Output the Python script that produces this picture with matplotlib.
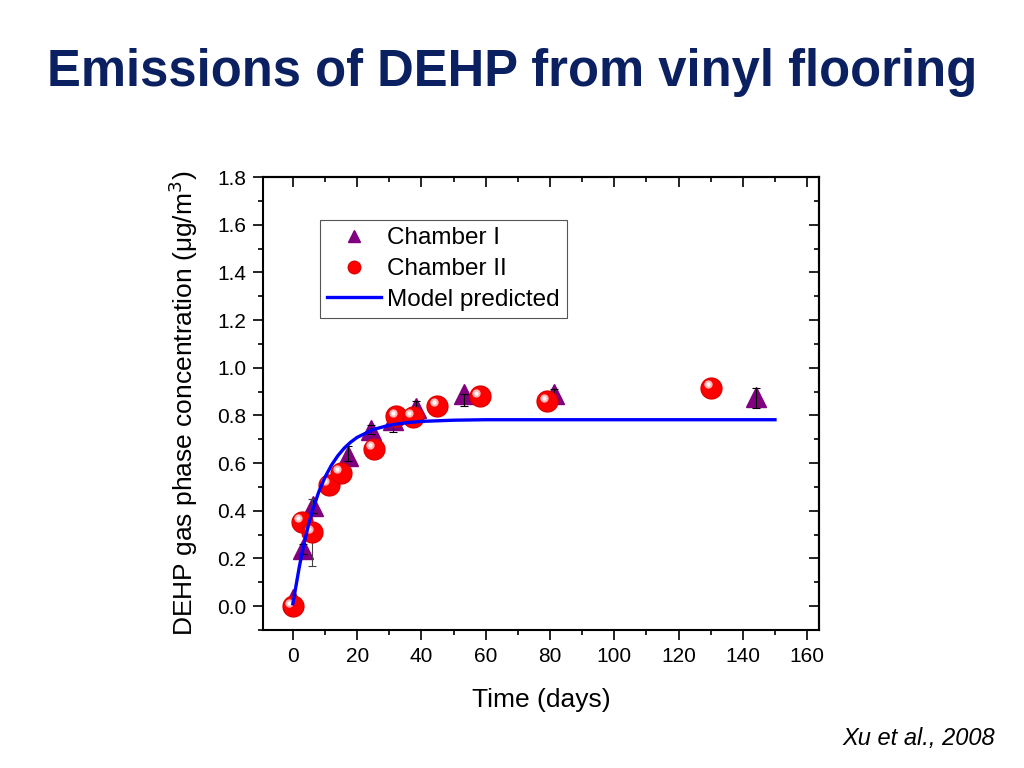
import matplotlib
matplotlib.use('Agg')
import matplotlib.pyplot as plt
import matplotlib.transforms as mtransforms
from matplotlib.ticker import MultipleLocator

plt.rcParams['font.family'] = ['Liberation Sans', 'DejaVu Sans']

# Chamber I (triangles)
ch1_t = [0, 3.2, 6.2, 17.2, 24.3, 31.3, 38.3, 53.1, 81.3, 144.1]
ch1_c = [0.03, 0.24, 0.42, 0.63, 0.74, 0.78, 0.83, 0.89, 0.89, 0.876]
ch1_err_lo = [0.01, 0.02, 0.03, 0.02, 0.02, 0.05, 0.02, 0.05, 0.02, 0.045]
ch1_err_hi = [0.01, 0.02, 0.03, 0.04, 0.02, 0.02, 0.03, 0.0, 0.02, 0.04]

# Chamber II (spheres)
ch2_t = [0, 2.7, 6.1, 11.1, 14.9, 25.1, 32.1, 37.3, 45.0, 58.2, 79.1, 130.1]
ch2_c = [0.0, 0.354, 0.31, 0.51, 0.56, 0.66, 0.797, 0.795, 0.84, 0.88, 0.86, 0.916]
ch2_err = [0.01, 0.02, 0.14, 0.02, 0.02, 0.02, 0.02, 0.02, 0.02, 0.02, 0.02, 0.02]

# Model curve, points
model_t = [0, 1, 2, 3, 4, 5, 6, 8, 10, 12, 14, 16, 18, 20, 25, 30, 35, 40, 50, 60, 80, 150]
model_c = [0.01, 0.087, 0.164, 0.232, 0.293, 0.348, 0.396, 0.477, 0.541, 0.591,
           0.631, 0.663, 0.688, 0.708, 0.741, 0.759, 0.769, 0.775, 0.780, 0.782,
           0.782, 0.782]

fig = plt.figure(figsize=(10.24, 7.68), dpi=100)
ax = fig.add_axes([0.2568, 0.1797, 0.5430, 0.5898])

# error bars (drawn under the spheres)
ax.errorbar(ch1_t, ch1_c, yerr=[ch1_err_lo, ch1_err_hi], fmt='none', ecolor='black',
            elinewidth=0.8, capsize=3, capthick=0.8, zorder=3)
ax.errorbar(ch2_t, ch2_c, yerr=ch2_err, fmt='none', ecolor='#444444',
            elinewidth=0.8, capsize=3, capthick=0.8, zorder=3)

ax.plot(ch1_t, ch1_c, linestyle='none', marker='^', markersize=15,
        color='#800080', markeredgecolor='#800080', zorder=2, label='Chamber I')
ax.plot(ch2_t, ch2_c, linestyle='none', marker='o', markersize=15,
        color='#ff0000', markeredgecolor='#e00000', zorder=4, label='Chamber II')
# highlight to give the spheres a shiny look
hl = mtransforms.offset_copy(ax.transData, fig=fig, x=-2.5, y=2.5, units='points')
ax.plot(ch2_t, ch2_c, linestyle='none', marker='o', markersize=6,
        color='#ffb4b4', markeredgewidth=0, transform=hl, zorder=5)
ax.plot(ch2_t, ch2_c, linestyle='none', marker='o', markersize=3,
        color='white', markeredgewidth=0, transform=hl, zorder=5)
ax.plot(model_t, model_c, color='#0000ff', linewidth=2.4, zorder=6,
        label='Model predicted')

ax.set_xlim(-9.3, 163.7)
ax.set_ylim(-0.1, 1.8)
ax.xaxis.set_major_locator(MultipleLocator(20))
ax.xaxis.set_minor_locator(MultipleLocator(10))
ax.yaxis.set_minor_locator(MultipleLocator(0.1))
ax.set_yticks([0.0, 0.2, 0.4, 0.6, 0.8, 1.0, 1.2, 1.4, 1.6, 1.8])
ax.set_yticklabels(['0.0', '0.2', '0.4', '0.6', '0.8', '1.0', '1.2', '1.4', '1.6', '1.8'])
ax.tick_params(which='major', direction='out', length=7, width=1.2, labelsize=15, pad=5)
ax.tick_params(which='minor', direction='out', length=3.5, width=1.2)
for s in ax.spines.values():
    s.set_linewidth(1.5)

# top and right ticks point inward
top = ax.secondary_xaxis('top')
top.xaxis.set_major_locator(MultipleLocator(20))
top.xaxis.set_minor_locator(MultipleLocator(10))
top.tick_params(which='major', direction='in', length=7, width=1.2, labeltop=False)
top.tick_params(which='minor', direction='in', length=3.5, width=1.2)
top.spines['top'].set_linewidth(1.5)
right = ax.secondary_yaxis('right')
right.yaxis.set_major_locator(MultipleLocator(0.2))
right.yaxis.set_minor_locator(MultipleLocator(0.1))
right.tick_params(which='major', direction='in', length=7, width=1.2, labelright=False)
right.tick_params(which='minor', direction='in', length=3.5, width=1.2)
right.spines['right'].set_linewidth(1.5)

ax.set_xlabel('Time (days)', fontsize=19, labelpad=16)
ax.set_ylabel('DEHP gas phase concentration (\u03bcg/m$^3$)', fontsize=19, labelpad=12)

leg = ax.legend(loc='upper left', bbox_to_anchor=(0.1025, 0.905), fontsize=17.5,
                markerscale=0.6, handlelength=2.2, fancybox=False, framealpha=1,
                edgecolor='#555555', borderpad=0.3, labelspacing=0.36,
                handletextpad=0.25, borderaxespad=0)
leg.get_frame().set_linewidth(0.8)

fig.text(0.5, 0.906, 'Emissions of DEHP from vinyl flooring', ha='center', va='center',
         fontsize=36.5, fontweight='bold', color='#0a2060')
fig.text(0.972, 0.039, 'Xu et al., 2008', ha='right', va='center', fontsize=17,
         style='italic')

fig.savefig('out.png', dpi=100)
